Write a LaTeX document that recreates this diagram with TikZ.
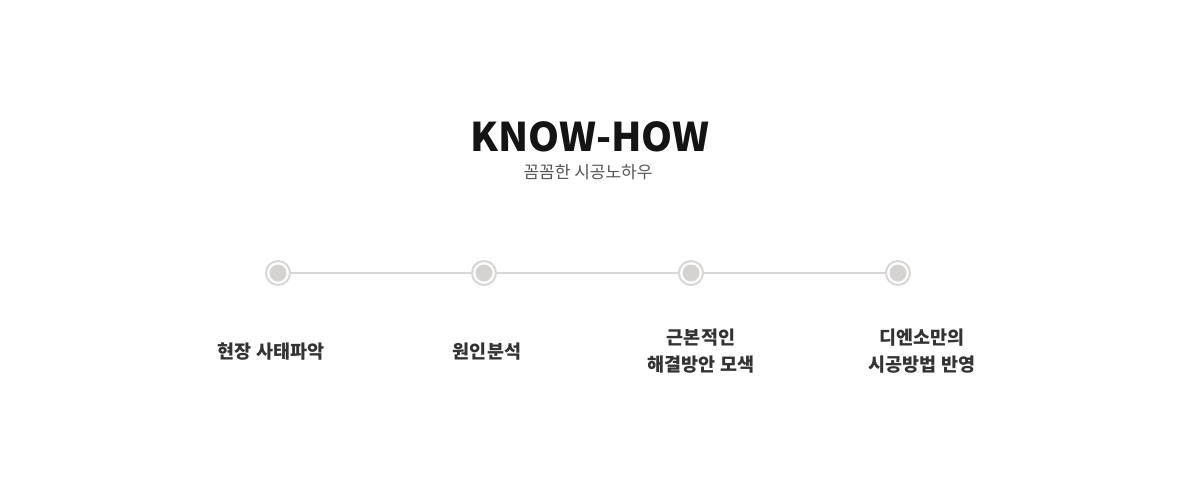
\documentclass[tikz,border=0pt]{standalone}
\usepackage{fontspec}
\setmainfont{Noto Sans CJK KR}
\definecolor{linegray}{HTML}{D9D6D6}
\definecolor{dotgray}{HTML}{D5D2D2}
\definecolor{labeltext}{HTML}{333333}
\definecolor{subtext}{HTML}{555555}
\begin{document}
\begin{tikzpicture}[x=1pt,y=-1pt,
  dotring/.style={circle,draw=linegray,line width=2pt,fill=white,minimum size=24pt,inner sep=0pt},
  dotcore/.style={circle,fill=dotgray,minimum size=17pt,inner sep=0pt},
  steplabel/.style={align=center,font=\bfseries\fontsize{18.5}{27}\selectfont,text=labeltext,inner sep=0pt},
  link/.style={draw=linegray,line width=1.6pt}]
\useasboundingbox (0,0) rectangle (1179,482);
\node[font=\bfseries\fontsize{39.5}{40}\selectfont,text=black!92,inner sep=0pt] (title) at (590,137) {KNOW-HOW};
\node[font=\fontsize{17}{17}\selectfont,text=subtext,inner sep=0pt] (sub) at (588,172) {꼼꼼한 시공노하우};
\node[dotring] (d1) at (278,273) {};
\node[dotring] (d2) at (484,273) {};
\node[dotring] (d3) at (691,273) {};
\node[dotring] (d4) at (898,273) {};
\draw[link] (d1) -- (d2);
\draw[link] (d2) -- (d3);
\draw[link] (d3) -- (d4);
\node[dotcore] (c1) at (d1) {};
\node[dotcore] (c2) at (d2) {};
\node[dotcore] (c3) at (d3) {};
\node[dotcore] (c4) at (d4) {};
\node[steplabel] (l1) at (271,352) {현장 사태파악};
\node[steplabel] (l2) at (487,352) {원인분석};
\node[steplabel] (l3) at (701,351) {근본적인\\해결방안 모색};
\node[steplabel] (l4) at (922,351) {디엔소만의\\시공방법 반영};
\end{tikzpicture}
\end{document}
